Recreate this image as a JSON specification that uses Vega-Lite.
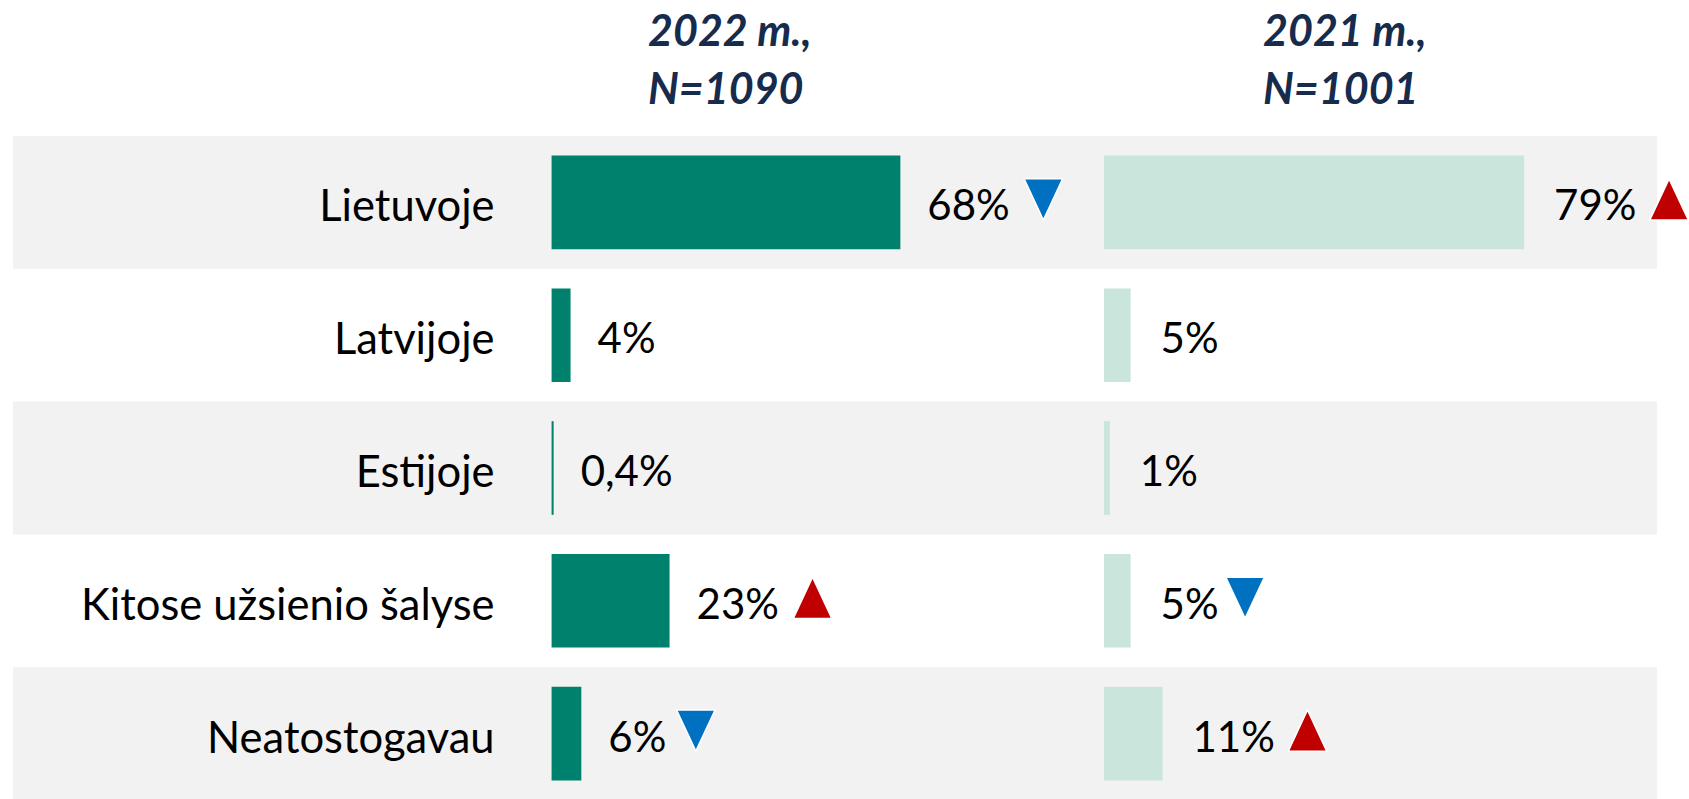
{
  "$schema": "https://vega.github.io/schema/vega-lite/v6.json",
  "padding": {"left": 13, "top": 12, "right": 0, "bottom": 0},
  "background": "white",
  "spacing": 0,
  "config": {
    "view": {"stroke": null},
    "font": "Lato",
    "title": {"font": "Lato", "fontSize": 43, "fontWeight": "bold", "fontStyle": "italic", "color": "#172B4D", "anchor": "start", "baseline": "bottom", "lineHeight": 57.6, "offset": 23}
  },
  "datasets": {
    "main": [
      {"row": "Lietuvoje", "year": "2022", "value": 68, "label": "68%", "marker": "down"},
      {"row": "Latvijoje", "year": "2022", "value": 3.7, "label": "4%", "marker": null},
      {"row": "Estijoje", "year": "2022", "value": 0.4, "label": "0,4%", "marker": null},
      {"row": "Kitose užsienio šalyse", "year": "2022", "value": 23, "label": "23%", "marker": "up"},
      {"row": "Neatostogavau", "year": "2022", "value": 5.8, "label": "6%", "marker": "down"},
      {"row": "Lietuvoje", "year": "2021", "value": 79, "label": "79%", "marker": "up"},
      {"row": "Latvijoje", "year": "2021", "value": 5, "label": "5%", "marker": null},
      {"row": "Estijoje", "year": "2021", "value": 1.1, "label": "1%", "marker": null},
      {"row": "Kitose užsienio šalyse", "year": "2021", "value": 5, "label": "5%", "marker": "down"},
      {"row": "Neatostogavau", "year": "2021", "value": 11, "label": "11%", "marker": "up"}
    ]
  },
  "hconcat": [
    {
      "width": 1091,
      "height": 664,
      "title": {"text": ["2022 m.,", "N=1090"], "dx": 635},
      "data": {"name": "main"},
      "transform": [{"filter": "datum.year == '2022'"}],
      "encoding": {
        "y": {"field": "row", "type": "nominal", "sort": ["Lietuvoje", "Latvijoje", "Estijoje", "Kitose užsienio šalyse", "Neatostogavau"], "axis": null, "scale": {"paddingInner": 0, "paddingOuter": 0}}
      },
      "layer": [
        {
          "transform": [{"filter": "indexof(['Lietuvoje','Estijoje','Neatostogavau'], datum.row) >= 0"}],
          "mark": {"type": "rect", "color": "#F2F2F2"}
        },
        {
          "mark": {"type": "bar", "color": "#00816D", "height": {"band": 0.705}},
          "encoding": {"x": {"field": "value", "type": "quantitative", "scale": {"domain": [-105, 107.7], "nice": false, "zero": false}, "axis": null}}
        },
        {
          "mark": {"type": "text", "align": "right", "baseline": "alphabetic", "dx": -57, "dy": 19, "fontSize": 43.5, "color": "#000000"},
          "encoding": {
            "x": {"datum": 0, "type": "quantitative", "scale": {"domain": [-105, 107.7], "nice": false, "zero": false}, "axis": null},
            "text": {"field": "row"}
          }
        },
        {
          "mark": {"type": "text", "align": "left", "baseline": "alphabetic", "dx": 27, "dy": 18, "fontSize": 42, "color": "#000000"},
          "encoding": {
            "x": {"field": "value", "type": "quantitative", "scale": {"domain": [-105, 107.7], "nice": false, "zero": false}, "axis": null},
            "text": {"field": "label"}
          }
        },
        {
          "transform": [{"filter": "datum.marker != null && length(datum.label) <= 2"}],
          "mark": {"type": "point", "filled": true, "opacity": 1, "stroke": "#FFFFFF", "strokeWidth": 1.5, "xOffset": 114.5, "yOffset": -3, "size": 1480},
          "encoding": {
            "x": {"field": "value", "type": "quantitative", "scale": {"domain": [-105, 107.7], "nice": false, "zero": false}, "axis": null},
            "shape": {"field": "marker", "type": "nominal", "scale": {"domain": ["down", "up"], "range": ["M-1,-1.07L1,-1.07L0,1.07Z", "M0,-1.07L1,1.07L-1,1.07Z"]}, "legend": null},
            "fill": {"field": "marker", "type": "nominal", "scale": {"domain": ["down", "up"], "range": ["#0070C0", "#C00000"]}, "legend": null}
          }
        },
        {
          "transform": [{"filter": "datum.marker != null && length(datum.label) > 2"}],
          "mark": {"type": "point", "filled": true, "opacity": 1, "stroke": "#FFFFFF", "strokeWidth": 1.5, "xOffset": 143, "yOffset": -3, "size": 1480},
          "encoding": {
            "x": {"field": "value", "type": "quantitative", "scale": {"domain": [-105, 107.7], "nice": false, "zero": false}, "axis": null},
            "shape": {"field": "marker", "type": "nominal", "scale": {"domain": ["down", "up"], "range": ["M-1,-1.07L1,-1.07L0,1.07Z", "M0,-1.07L1,1.07L-1,1.07Z"]}, "legend": null},
            "fill": {"field": "marker", "type": "nominal", "scale": {"domain": ["down", "up"], "range": ["#0070C0", "#C00000"]}, "legend": null}
          }
        }
      ]
    },
    {
      "width": 553,
      "height": 664,
      "title": {"text": ["2021 m.,", "N=1001"], "dx": 159},
      "data": {"name": "main"},
      "transform": [{"filter": "datum.year == '2021'"}],
      "encoding": {
        "y": {"field": "row", "type": "nominal", "sort": ["Lietuvoje", "Latvijoje", "Estijoje", "Kitose užsienio šalyse", "Neatostogavau"], "axis": null, "scale": {"paddingInner": 0, "paddingOuter": 0}}
      },
      "layer": [
        {
          "transform": [{"filter": "indexof(['Lietuvoje','Estijoje','Neatostogavau'], datum.row) >= 0"}],
          "mark": {"type": "rect", "color": "#F2F2F2"}
        },
        {
          "mark": {"type": "bar", "color": "#C9E5DC", "height": {"band": 0.705}},
          "encoding": {"x": {"field": "value", "type": "quantitative", "scale": {"domain": [0, 104], "nice": false, "zero": false}, "axis": null}}
        },
        {
          "mark": {"type": "text", "align": "left", "baseline": "alphabetic", "dx": 30, "dy": 18, "fontSize": 42, "color": "#000000"},
          "encoding": {
            "x": {"field": "value", "type": "quantitative", "scale": {"domain": [0, 104], "nice": false, "zero": false}, "axis": null},
            "text": {"field": "label"}
          }
        },
        {
          "transform": [{"filter": "datum.marker != null && length(datum.label) <= 2"}],
          "mark": {"type": "point", "filled": true, "opacity": 1, "stroke": "#FFFFFF", "strokeWidth": 1.5, "xOffset": 114.5, "yOffset": -3, "size": 1480, "clip": false},
          "encoding": {
            "x": {"field": "value", "type": "quantitative", "scale": {"domain": [0, 104], "nice": false, "zero": false}, "axis": null},
            "shape": {"field": "marker", "type": "nominal", "scale": {"domain": ["down", "up"], "range": ["M-1,-1.07L1,-1.07L0,1.07Z", "M0,-1.07L1,1.07L-1,1.07Z"]}, "legend": null},
            "fill": {"field": "marker", "type": "nominal", "scale": {"domain": ["down", "up"], "range": ["#0070C0", "#C00000"]}, "legend": null}
          }
        },
        {
          "transform": [{"filter": "datum.marker != null && length(datum.label) > 2"}],
          "mark": {"type": "point", "filled": true, "opacity": 1, "stroke": "#FFFFFF", "strokeWidth": 1.5, "xOffset": 145, "yOffset": -3, "size": 1480, "clip": false},
          "encoding": {
            "x": {"field": "value", "type": "quantitative", "scale": {"domain": [0, 104], "nice": false, "zero": false}, "axis": null},
            "shape": {"field": "marker", "type": "nominal", "scale": {"domain": ["down", "up"], "range": ["M-1,-1.07L1,-1.07L0,1.07Z", "M0,-1.07L1,1.07L-1,1.07Z"]}, "legend": null},
            "fill": {"field": "marker", "type": "nominal", "scale": {"domain": ["down", "up"], "range": ["#0070C0", "#C00000"]}, "legend": null}
          }
        }
      ]
    }
  ]
}
